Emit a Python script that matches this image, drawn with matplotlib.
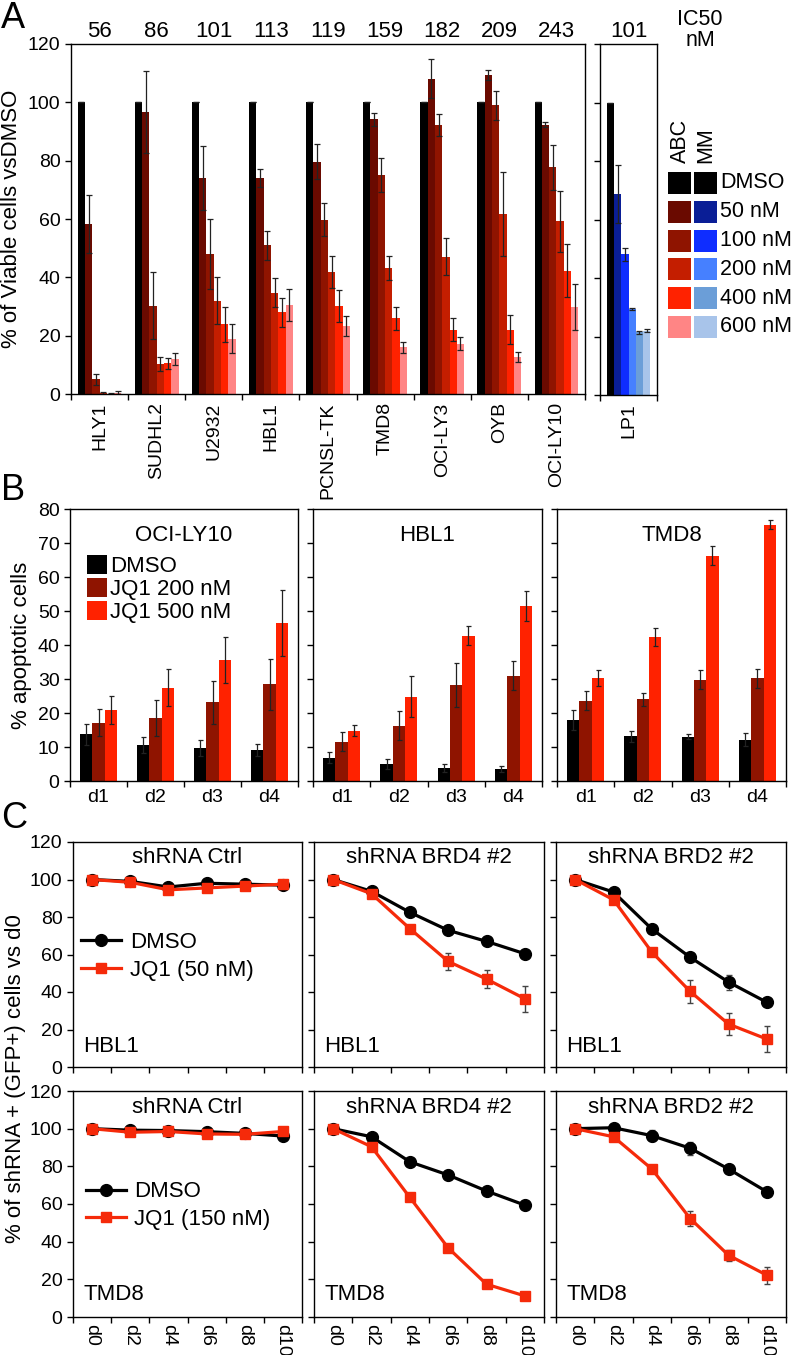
import matplotlib
matplotlib.use('Agg')
import matplotlib.pyplot as plt
import numpy as np
from matplotlib.patches import Rectangle
from matplotlib.lines import Line2D

plt.rcParams['font.family'] = ['Liberation Sans', 'DejaVu Sans']
plt.rcParams['axes.linewidth'] = 1.0

W, H = 796, 1355
fig = plt.figure(figsize=(W / 100, H / 100), dpi=100)


def px_axes(l, t, r, b):
    return fig.add_axes([l / W, 1 - b / H, (r - l) / W, (b - t) / H])


# ---------------- Panel A data ----------------
cell_lines = ['HLY1', 'SUDHL2', 'U2932', 'HBL1', 'PCNSL-TK', 'TMD8', 'OCI-LY3', 'OYB', 'OCI-LY10']
ic50 = [56, 86, 101, 113, 119, 159, 182, 209, 243]
dose_labels = ['DMSO', '50 nM', '100 nM', '200 nM', '400 nM', '600 nM']
v_dmso = [100, 100, 100, 100, 100, 100, 100, 100, 100]
v_50 = [58.3, 96.7, 74.2, 74.1, 79.7, 94.2, 108.1, 109.3, 92.3]
v_100 = [5.0, 30.3, 48.0, 51.0, 59.8, 75.0, 92.2, 99.0, 77.7]
v_200 = [0.4, 10.3, 32.0, 34.8, 41.8, 43.2, 47.1, 61.6, 59.2]
v_400 = [0.1, 10.5, 24.0, 28.0, 30.2, 26.0, 22.1, 22.1, 42.3]
v_600 = [0.5, 12.0, 19.0, 30.6, 23.4, 16.0, 17.3, 12.8, 29.9]
e_dmso = [0, 0, 0, 0, 0, 0, 0, 0, 0]
e_50 = [10, 14, 11, 3, 6, 2.3, 6.7, 1.8, 0.8]
e_100 = [2, 11.5, 12, 5, 5.7, 5.8, 3.8, 5, 7.7]
e_200 = [0.3, 2.3, 8, 5, 5.6, 4, 6.4, 14.4, 10.4]
e_400 = [0.3, 2, 6, 5, 5.4, 4, 4, 5, 9]
e_600 = [0.4, 2, 5, 5.5, 3.4, 1.8, 2.2, 1.7, 7.8]

lp1_name = 'LP1'
lp1_ic50 = 101
lp1_vals = [100, 68.7, 48.1, 29.4, 21.5, 21.9]
lp1_err = [0, 9.8, 2.2, 0.5, 0.5, 0.5]

abc_colors = ['#000000', '#6a0a00', '#8f1400', '#c41e00', '#ff2200', '#ff8585']
mm_colors = ['#000000', '#0a1e96', '#0f2dff', '#4680ff', '#6b9ed8', '#a8c4ea']

# ---------------- Panel B data ----------------
days_b = ['d1', 'd2', 'd3', 'd4']
b_titles = ['OCI-LY10', 'HBL1', 'TMD8']
b_labels = ['DMSO', 'JQ1 200 nM', 'JQ1 500 nM']
b_colors = ['#000000', '#8f1400', '#ff2200']
ocily10_vals = [[13.7, 10.6, 9.8, 9.1], [17.1, 18.4, 23.1, 28.4], [20.9, 27.5, 35.6, 46.5]]
ocily10_err = [[3.0, 2.4, 2.4, 1.8], [4.0, 5.3, 6.3, 7.4], [4.0, 5.5, 6.8, 9.7]]
hbl1_vals = [[6.9, 5.1, 3.8, 3.5], [11.5, 16.3, 28.3, 31.0], [14.8, 24.8, 42.7, 51.5]]
hbl1_err = [[1.7, 1.5, 1.2, 0.9], [2.8, 4.3, 6.5, 4.3], [1.7, 6.0, 2.8, 4.4]]
tmd8_vals = [[18.0, 13.1, 13.0, 12.1], [23.6, 24.0, 29.8, 30.2], [30.2, 42.4, 66.2, 75.4]]
tmd8_err = [[3.0, 1.6, 0.7, 1.9], [2.8, 2.0, 2.8, 2.7], [2.4, 2.7, 2.8, 1.3]]

# ---------------- Panel C data ----------------
days_c = ['d0', 'd2', 'd4', 'd6', 'd8', 'd10']
c_titles = ['shRNA Ctrl', 'shRNA BRD4 #2', 'shRNA BRD2 #2']
c_cells = ['HBL1', 'TMD8']
c_jq1_labels = ['JQ1 (50 nM)', 'JQ1 (150 nM)']
# HBL1 row
hbl1_ctrl_dmso = [100, 99, 96, 98, 97.5, 97]
hbl1_ctrl_jq1 = [100, 98.5, 94.5, 95.5, 96.5, 97.5]
hbl1_brd4_dmso = [100, 93.7, 82.5, 72.9, 67.0, 60.4]
hbl1_brd4_jq1 = [100, 92.4, 73.8, 56.3, 46.9, 36.4]
hbl1_brd2_dmso = [100, 93.3, 73.6, 58.5, 45.3, 34.5]
hbl1_brd2_jq1 = [100, 89.2, 61.3, 40.3, 22.9, 14.9]
hbl1_ctrl_dmso_err = [0.5, 0.5, 0.8, 0.6, 0.5, 0.5]
hbl1_ctrl_jq1_err = [0.5, 0.6, 1.0, 0.8, 0.6, 0.5]
hbl1_brd4_dmso_err = [0.5, 0.8, 1.0, 1.0, 1.0, 1.2]
hbl1_brd4_jq1_err = [0.5, 1.0, 1.5, 4.6, 5.0, 7.0]
hbl1_brd2_dmso_err = [0.5, 0.8, 1.0, 1.2, 4.0, 1.5]
hbl1_brd2_jq1_err = [0.5, 1.0, 1.5, 6.0, 6.0, 7.0]
# TMD8 row
tmd8_ctrl_dmso = [100, 99.2, 99, 98.4, 97.5, 96.1]
tmd8_ctrl_jq1 = [100, 98.1, 98.5, 97.2, 97.0, 98.5]
tmd8_brd4_dmso = [100, 95.7, 82.4, 75.4, 66.9, 59.4]
tmd8_brd4_jq1 = [100, 90.4, 63.5, 36.7, 17.4, 11.2]
tmd8_brd2_dmso = [100, 100.5, 96.3, 89.6, 78.6, 66.5]
tmd8_brd2_jq1 = [100, 95.7, 78.6, 52.3, 32.8, 22.2]
tmd8_ctrl_dmso_err = [0.5, 0.5, 0.5, 0.5, 0.5, 0.8]
tmd8_ctrl_jq1_err = [0.5, 0.5, 0.5, 0.5, 0.5, 0.8]
tmd8_brd4_dmso_err = [0.5, 0.8, 1.0, 1.0, 1.0, 1.0]
tmd8_brd4_jq1_err = [0.5, 1.0, 1.0, 1.0, 1.0, 2.0]
tmd8_brd2_dmso_err = [0.5, 0.8, 3.0, 3.5, 1.0, 1.0]
tmd8_brd2_jq1_err = [0.5, 1.0, 1.0, 4.0, 3.0, 4.5]

TICK_FS = 14
TXT_FS = 16

# ================= Panel A =================
axA = px_axes(71, 44, 585, 394)
a_vals = [v_dmso, v_50, v_100, v_200, v_400, v_600]
a_errs = [e_dmso, e_50, e_100, e_200, e_400, e_600]
xA = np.arange(len(cell_lines))
bw = 0.128
for i, (vals, errs) in enumerate(zip(a_vals, a_errs)):
    axA.bar(xA + (i - 2.5) * bw, vals, bw, color=abc_colors[i], linewidth=0,
            yerr=errs, ecolor='#222222', error_kw=dict(elinewidth=0.9, capsize=2.5, capthick=0.9))
axA.set_xlim(-0.5, len(cell_lines) - 0.5)
axA.set_ylim(0, 120)
axA.set_yticks(np.arange(0, 121, 20))
axA.set_xticks(np.arange(-0.5, len(cell_lines), 1.0))
axA.set_xticklabels([])
axA.set_xticks(xA, minor=True)
axA.set_xticklabels(cell_lines, minor=True, rotation=90, fontsize=TICK_FS)
axA.tick_params(axis='x', which='minor', length=0, pad=6)
axA.tick_params(axis='both', which='major', direction='out', length=4, width=1, labelsize=TICK_FS)
for x, v in zip(xA, ic50):
    axA.text(x, 1.035, str(v), transform=axA.get_xaxis_transform(), ha='center', va='center', fontsize=16)
axA.set_ylabel('% of Viable cells vsDMSO', fontsize=TXT_FS, labelpad=4)

axL = px_axes(600, 44, 657, 395)
for i in range(6):
    axL.bar((i - 2.5) * bw, lp1_vals[i], bw, color=mm_colors[i], linewidth=0,
            yerr=lp1_err[i], ecolor='#222222', error_kw=dict(elinewidth=0.9, capsize=2, capthick=0.9))
axL.set_xlim(-0.5, 0.5)
axL.set_ylim(0, 120)
axL.set_yticks(np.arange(0, 121, 20))
axL.set_yticklabels([])
axL.set_xticks([-0.5, 0.5])
axL.set_xticklabels([])
axL.set_xticks([0], minor=True)
axL.set_xticklabels([lp1_name], minor=True, rotation=90, fontsize=TICK_FS)
axL.tick_params(axis='x', which='minor', length=0, pad=6)
axL.tick_params(axis='both', which='major', direction='out', length=4, width=1)
axL.text(0, 1.035, str(lp1_ic50), transform=axL.get_xaxis_transform(), ha='center', va='center', fontsize=16)

# overlay for legend and labels (pixel coordinates)
ov = fig.add_axes([0, 0, 1, 1])
ov.set_xlim(0, W)
ov.set_ylim(H, 0)
ov.axis('off')
ov.text(700, 30, 'IC50\nnM', ha='center', va='center', fontsize=15.5, linespacing=0.95)
ov.text(680, 163, 'ABC', rotation=90, ha='center', va='bottom', fontsize=15.5)
ov.text(706, 163, 'MM', rotation=90, ha='center', va='bottom', fontsize=15.5)
for i, lab in enumerate(dose_labels):
    y0 = 172 + i * 28.8
    ov.add_patch(Rectangle((668, y0), 23, 22, color=abc_colors[i], lw=0))
    ov.add_patch(Rectangle((694, y0), 23, 22, color=mm_colors[i], lw=0))
    ov.text(720, y0 + 11, lab, ha='left', va='center', fontsize=15.5)

ov.text(1, 18, 'A', ha='left', va='center', fontsize=26)
ov.text(1, 490, 'B', ha='left', va='center', fontsize=26)
ov.text(1, 818, 'C', ha='left', va='center', fontsize=26)

# ================= Panel B =================
b_sets = [(ocily10_vals, ocily10_err), (hbl1_vals, hbl1_err), (tmd8_vals, tmd8_err)]
b_pos = [(70, 509, 298, 781), (313, 509, 542, 781), (557, 509, 786, 781)]
xB = np.arange(len(days_b))
bwB = 0.216
for k, ((vals, errs), pos) in enumerate(zip(b_sets, b_pos)):
    ax = px_axes(*pos)
    for i in range(3):
        ax.bar(xB + (i - 1) * bwB, vals[i], bwB, color=b_colors[i], linewidth=0, label=b_labels[i],
               yerr=errs[i], ecolor='#222222', error_kw=dict(elinewidth=0.9, capsize=1.8, capthick=0.9))
    ax.set_xlim(-0.5, len(days_b) - 0.5)
    ax.set_ylim(0, 80)
    ax.set_yticks(np.arange(0, 81, 10))
    if k > 0:
        ax.set_yticklabels([])
    ax.set_xticks(np.arange(-0.5, len(days_b), 1.0))
    ax.set_xticklabels([])
    ax.set_xticks(xB, minor=True)
    ax.set_xticklabels(days_b, minor=True, fontsize=TICK_FS)
    ax.tick_params(axis='x', which='minor', length=0, pad=6)
    ax.tick_params(axis='both', which='major', direction='out', length=4, width=1, labelsize=TICK_FS)
    ax.text(0.5, 0.904, b_titles[k], transform=ax.transAxes, ha='center', va='center', fontsize=TXT_FS)
    if k == 0:
        ax.set_ylabel('% apoptotic cells', fontsize=TXT_FS, labelpad=4)
        ax.legend(loc='upper left', bbox_to_anchor=(0.075, 0.83), frameon=False, fontsize=TXT_FS,
                  handlelength=0.9, handleheight=0.9, handletextpad=0.12, labelspacing=0.05,
                  borderpad=0, borderaxespad=0)

# ================= Panel C =================
c_rows = [
    [(hbl1_ctrl_dmso, hbl1_ctrl_dmso_err, hbl1_ctrl_jq1, hbl1_ctrl_jq1_err),
     (hbl1_brd4_dmso, hbl1_brd4_dmso_err, hbl1_brd4_jq1, hbl1_brd4_jq1_err),
     (hbl1_brd2_dmso, hbl1_brd2_dmso_err, hbl1_brd2_jq1, hbl1_brd2_jq1_err)],
    [(tmd8_ctrl_dmso, tmd8_ctrl_dmso_err, tmd8_ctrl_jq1, tmd8_ctrl_jq1_err),
     (tmd8_brd4_dmso, tmd8_brd4_dmso_err, tmd8_brd4_jq1, tmd8_brd4_jq1_err),
     (tmd8_brd2_dmso, tmd8_brd2_dmso_err, tmd8_brd2_jq1, tmd8_brd2_jq1_err)],
]
c_cols = [(73, 302), (314, 544), (556, 786)]
c_tb = [(842, 1067), (1091, 1317)]
xC = np.arange(len(days_c))
red = '#f52a0a'
for r in range(2):
    for c in range(3):
        l, rr = c_cols[c]
        t, b = c_tb[r]
        ax = px_axes(l, t, rr, b)
        d, de, j, je = c_rows[r][c]
        ax.errorbar(xC, d, yerr=de, color='black', marker='o', ms=8.5, lw=2.3,
                    ecolor='#444444', elinewidth=1, capsize=2, capthick=1, zorder=3)
        ax.errorbar(xC, j, yerr=je, color=red, marker='s', ms=7.5, lw=2.3,
                    ecolor='#444444', elinewidth=1, capsize=2, capthick=1, zorder=4)
        ax.set_xlim(-0.5, len(days_c) - 0.5)
        ax.set_ylim(0, 120)
        ax.set_yticks(np.arange(0, 121, 20))
        if c > 0:
            ax.set_yticklabels([])
        ax.set_xticks(np.arange(-0.5, len(days_c), 1.0))
        ax.set_xticklabels([])
        ax.set_xticks(xC, minor=True)
        if r == 1:
            ax.set_xticklabels(days_c, minor=True, rotation=270, fontsize=TICK_FS)
        else:
            ax.set_xticklabels([], minor=True)
        ax.tick_params(axis='x', which='minor', length=0, pad=5)
        ax.tick_params(axis='both', which='major', direction='out', length=4, width=1, labelsize=TICK_FS)
        ax.text(0.5, 0.929, c_titles[c], transform=ax.transAxes, ha='center', va='center', fontsize=TXT_FS)
        ax.text(0.044, 0.09 if r == 0 else 0.1, c_cells[r], transform=ax.transAxes,
                ha='left', va='center', fontsize=TXT_FS)
        if c == 0:
            handles = [Line2D([], [], color='black', marker='o', ms=8.5, lw=2.3),
                       Line2D([], [], color=red, marker='s', ms=7.5, lw=2.3)]
            ax.legend(handles, ['DMSO', c_jq1_labels[r]], loc='upper left',
                      bbox_to_anchor=(0.035 if r == 0 else 0.055, 0.6), frameon=False,
                      fontsize=TXT_FS, handlelength=1.8, handletextpad=0.4, labelspacing=0.3,
                      borderpad=0, borderaxespad=0, numpoints=1)

fig.text(16 / W, 1 - 1079 / H, '% of shRNA + (GFP+) cells vs d0', rotation=90,
         ha='center', va='center', fontsize=TXT_FS)

fig.savefig('out.png', dpi=100)
